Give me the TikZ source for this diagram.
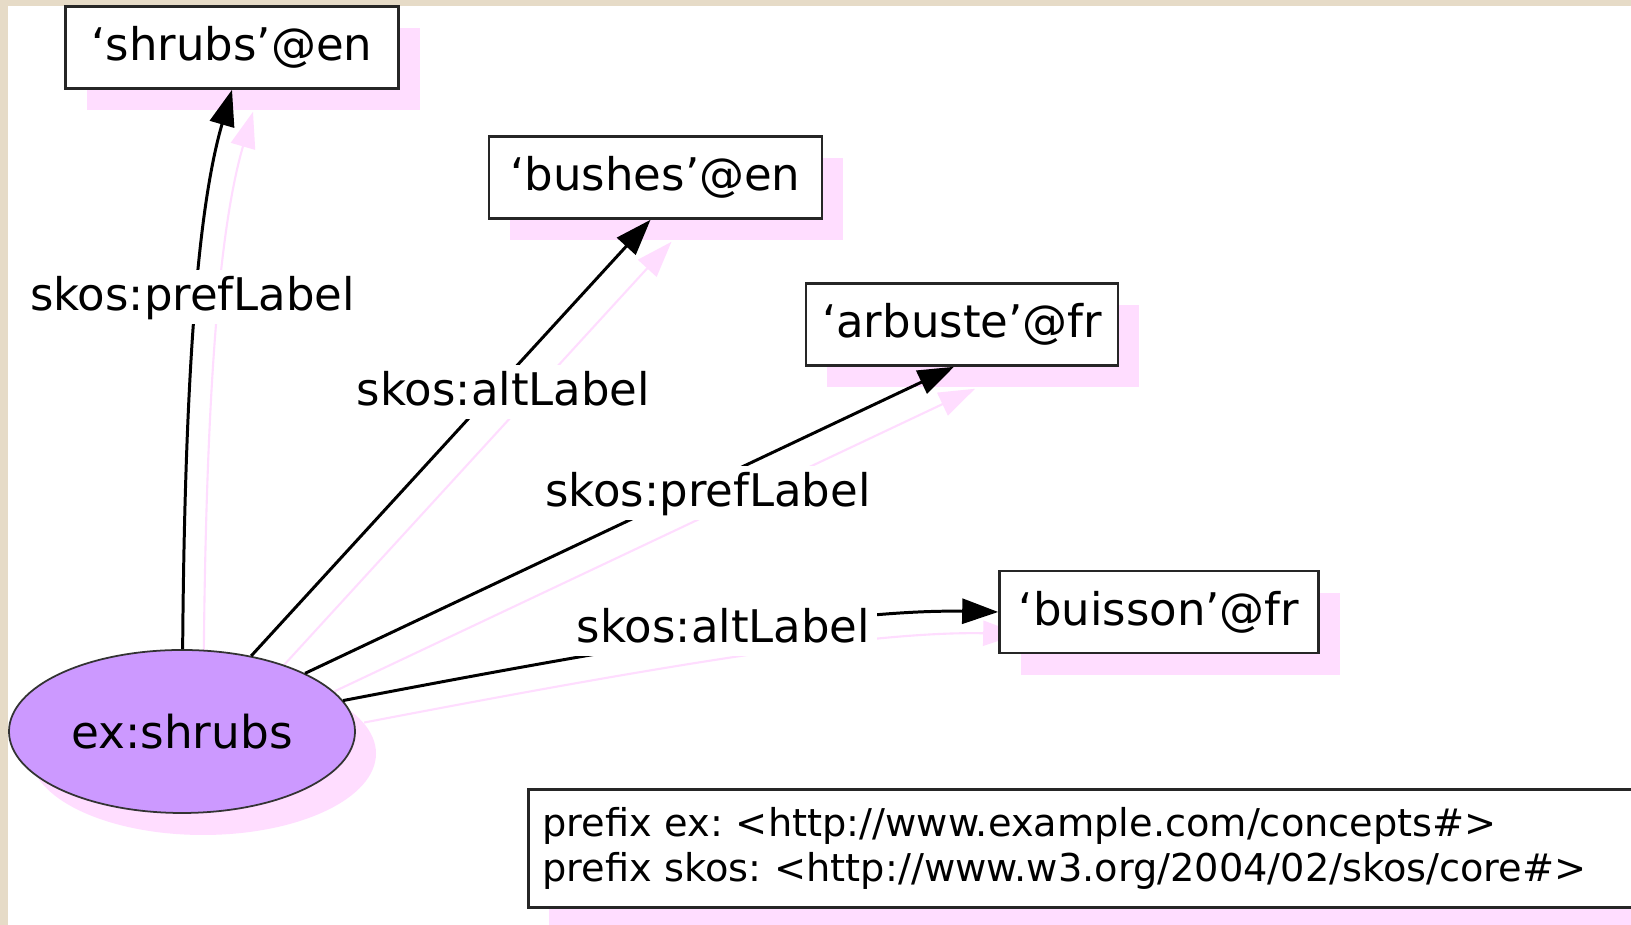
\documentclass[tikz,border=0pt]{standalone}
\usepackage{fontspec}
\setmainfont{DejaVu Sans}
\frenchspacing
\usetikzlibrary{arrows.meta,shapes.geometric,shadows,backgrounds}
\definecolor{framebeige}{RGB}{230,219,199}
\definecolor{shpink}{RGB}{255,221,255}
\definecolor{conceptfill}{RGB}{204,153,255}
\tikzset{
  pinkshadow/.style={drop shadow={shadow xshift=0.21cm, shadow yshift=-0.22cm, fill=shpink, opacity=1}},
  lit/.style={draw=black!85, line width=0.75pt, fill=white, minimum height=0.82cm, font=\fontsize{12.8}{15}\selectfont, pinkshadow},
  conceptnode/.style={ellipse, draw=black!80, line width=0.5pt, fill=conceptfill, minimum width=3.46cm, minimum height=1.63cm, inner sep=0pt, font=\fontsize{12.9}{15}\selectfont, pinkshadow},
  rel/.style={line width=0.85pt, -{Triangle[length=0.36cm,width=0.25cm]}},
  relshadow/.style={draw=shpink, line width=0.6pt, -{Triangle[length=0.36cm,width=0.25cm]}},
  lbl/.style={fill=white, inner sep=0.07cm, text height=0.34cm, text depth=0.06cm, font=\fontsize{12.8}{15}\selectfont},
  prefixbox/.style={draw=black!85, line width=0.75pt, fill=white, align=left, text width=11.5cm, inner xsep=0.14cm, minimum height=1.18cm, font=\fontsize{10.9}{12.8}\selectfont, pinkshadow}
}
\begin{document}
\begin{tikzpicture}
\useasboundingbox (0,0) rectangle (16.31,9.25);
\clip (0,0) rectangle (16.31,9.25);

%concept
\node (ex) [conceptnode] at (1.82,1.935) {ex:shrubs};

%literals
\node (shrubs) [lit, minimum width=3.33cm] at (2.32,8.775) {‘shrubs’@en};
\node (bushes) [lit, minimum width=3.33cm] at (6.555,7.475) {‘bushes’@en};
\node (arbuste) [lit, minimum width=3.12cm] at (9.62,6.005) {‘arbuste’@fr};
\node (buisson) [lit, minimum width=3.19cm] at (11.59,3.13) {‘buisson’@fr};

%relations
\draw[rel] (ex) .. controls (1.85,5.75) and (2.0,7.25) .. (shrubs.south);
\draw[rel] (ex) -- ([xshift=-0.05cm]bushes.south);
\draw[rel] (ex) -- ([xshift=-0.08cm]arbuste.south);
\draw[rel] (ex) .. controls (6.43,2.82) and (8.5,3.16) .. (buisson.west);

%frame and relation shadows
\begin{scope}[on background layer]
\fill[framebeige] (0,0) rectangle (16.31,9.25);
\fill[white] (0.08,0) rectangle (16.31,9.19);
\begin{scope}[transform canvas={shift={(0.21,-0.22)}}]
\draw[relshadow] (ex) .. controls (1.85,5.75) and (2.0,7.25) .. (shrubs.south);
\draw[relshadow] (ex) -- ([xshift=-0.05cm]bushes.south);
\draw[relshadow] (ex) -- ([xshift=-0.08cm]arbuste.south);
\draw[relshadow] (ex) .. controls (6.43,2.82) and (8.5,3.16) .. (buisson.west);
\end{scope}
\end{scope}

%property names
\node (pref-en) [lbl, anchor=base] at (1.925,6.14) {skos:prefLabel};
\node (alt-en) [lbl, anchor=base] at (5.035,5.19) {skos:altLabel};
\node (pref-fr) [lbl, anchor=base] at (7.08,4.18) {skos:prefLabel};
\node (alt-fr) [lbl, anchor=base] at (7.235,2.82) {skos:altLabel};

%prefixes
\node (prefixes) [prefixbox, anchor=west] at (5.27,0.765) {prefix ex: <http://www.example.com/concepts\#>\\prefix skos: <http://www.w3.org/2004/02/skos/core\#>};
\end{tikzpicture}
\end{document}
